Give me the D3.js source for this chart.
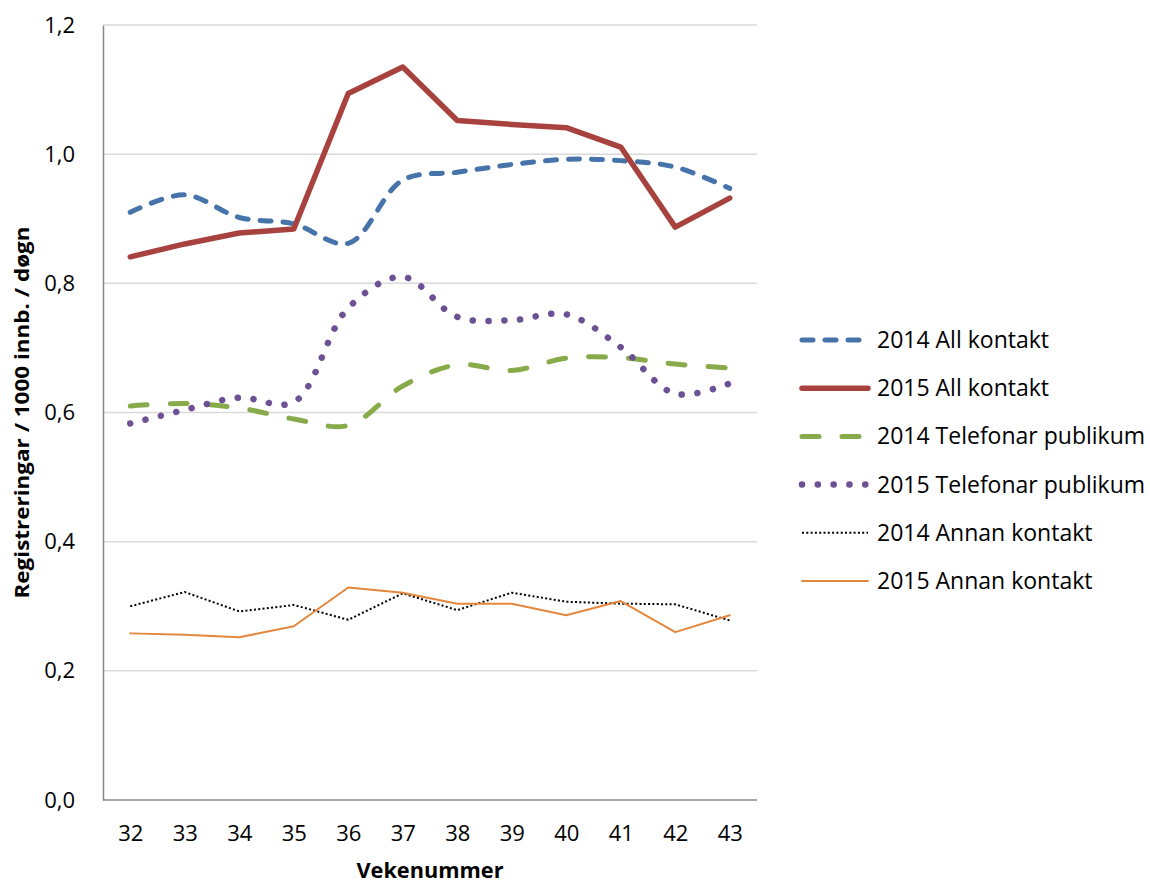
<!DOCTYPE html>
<html>
<head>
<meta charset="utf-8">
<script src="https://cdn.jsdelivr.net/npm/d3@7"></script>
<style>
  body { margin: 0; background: #fff; }
  text { font-family: "Open Sans", Lato, sans-serif; fill: #000; }
</style>
</head>
<body>
<svg id="chart" width="1150" height="883"></svg>
<script>
// semaines
const veker = ["32","33","34","35","36","37","38","39","40","41","42","43"];
const yTicks = [0, 0.2, 0.4, 0.6, 0.8, 1.0, 1.2];

const all2014 = [0.910, 0.937, 0.902, 0.892, 0.862, 0.960, 0.972, 0.984, 0.992, 0.990, 0.980, 0.947];
const all2015 = [0.841, 0.861, 0.878, 0.884, 1.094, 1.135, 1.052, 1.046, 1.041, 1.011, 0.887, 0.932];
const tel2014 = [0.610, 0.614, 0.607, 0.590, 0.580, 0.641, 0.674, 0.665, 0.684, 0.685, 0.675, 0.669];
const tel2015 = [0.583, 0.604, 0.623, 0.616, 0.762, 0.810, 0.748, 0.743, 0.752, 0.701, 0.629, 0.645];
const annan2014 = [0.300, 0.322, 0.292, 0.302, 0.279, 0.320, 0.294, 0.321, 0.307, 0.304, 0.303, 0.278];
const annan2015 = [0.258, 0.256, 0.252, 0.269, 0.329, 0.321, 0.304, 0.304, 0.286, 0.308, 0.260, 0.286];

const series = [
  {name: "2014 All kontakt", vals: all2014, color: "#4573aa", w: 5, dash: "11 12", cap: "round", smooth: true},
  {name: "2015 All kontakt", vals: all2015, color: "#a8423f", w: 5.5, dash: null, cap: "round", smooth: false},
  {name: "2014 Telefonar publikum", vals: tel2014, color: "#87aa4b", w: 5, dash: "17 23", cap: "round", smooth: true},
  {name: "2015 Telefonar publikum", vals: tel2015, color: "#6c5194", w: 6.5, dash: "0.1 15.7", cap: "round", smooth: true},
  {name: "2014 Annan kontakt", vals: annan2014, color: "#000", w: 2, dash: "2 2.3", cap: "butt", smooth: false},
  {name: "2015 Annan kontakt", vals: annan2015, color: "#e3873d", w: 2, dash: null, cap: "round", smooth: false}
];

var margin = {top: 25, left: 103, right: 757, bottom: 800};
const svg = d3.select("#chart");

const x = d3.scalePoint().domain(veker).range([margin.left, margin.right]).padding(0.5);
const y = d3.scaleLinear().domain([0, 1.2]).range([margin.bottom, margin.top]);

// grille
svg.append("g").selectAll("line")
  .data(yTicks.filter(d => d > 0))
  .join("line")
  .attr("x1", margin.left).attr("x2", margin.right)
  .attr("y1", d => y(d)).attr("y2", d => y(d))
  .attr("stroke", "#d9d9d9").attr("stroke-width", 1.5);

// axes
const fmt = d => d.toFixed(1).replace(".", ",");
const yAxis = svg.append("g")
  .attr("transform", `translate(${margin.left},0)`)
  .call(d3.axisLeft(y).tickValues(yTicks).tickFormat(fmt).tickSize(0).tickPadding(28));
yAxis.select(".domain").attr("stroke", "#888").attr("stroke-width", 1.5);
yAxis.selectAll("text").style("font-size", "22px").style("font-family", "'Open Sans', sans-serif");

const xAxis = svg.append("g")
  .attr("transform", `translate(0,${margin.bottom})`)
  .call(d3.axisBottom(x).tickSize(0).tickPadding(25));
xAxis.select(".domain").attr("d", `M${margin.left},0H${margin.right}`).attr("stroke", "#888").attr("stroke-width", 1.5);
xAxis.selectAll("text").style("font-size", "22px").style("font-family", "'Open Sans', sans-serif");

// titres
svg.append("text")
  .attr("transform", `translate(29,${(margin.top + margin.bottom) / 2}) rotate(-90)`)
  .attr("text-anchor", "middle")
  .attr("textLength", 372).attr("lengthAdjust", "spacingAndGlyphs")
  .style("font-size", "19px").style("font-weight", "bold")
  .text("Registreringar / 1000 innb. / døgn");

svg.append("text")
  .attr("x", (margin.left + margin.right) / 2).attr("y", 878)
  .attr("text-anchor", "middle")
  .attr("textLength", 147).attr("lengthAdjust", "spacingAndGlyphs")
  .style("font-size", "21px").style("font-weight", "bold")
  .text("Vekenummer");

// courbes
series.forEach(s => {
  const line = d3.line()
    .x((d, i) => x(veker[i]))
    .y(d => y(d))
    .curve(s.smooth ? d3.curveCatmullRom.alpha(0.5) : d3.curveLinear);
  svg.append("path")
    .datum(s.vals)
    .attr("d", line)
    .attr("fill", "none")
    .attr("stroke", s.color)
    .attr("stroke-width", s.w)
    .attr("stroke-linecap", s.cap)
    .attr("stroke-linejoin", "round")
    .attr("stroke-dasharray", s.dash);
});

// légende
const leg = svg.append("g").selectAll("g")
  .data(series)
  .join("g")
  .attr("transform", (d, i) => `translate(800,${340 + i * 48.2})`);
leg.append("line")
  .attr("x1", 2).attr("x2", 68)
  .attr("stroke", d => d.color)
  .attr("stroke-width", d => d.w)
  .attr("stroke-linecap", d => d.cap)
  .attr("stroke-dasharray", d => d.dash);
leg.append("text")
  .attr("x", 77).attr("dy", "0.35em")
  .style("font-size", "23px")
  .text(d => d.name);
</script>
</body>
</html>
